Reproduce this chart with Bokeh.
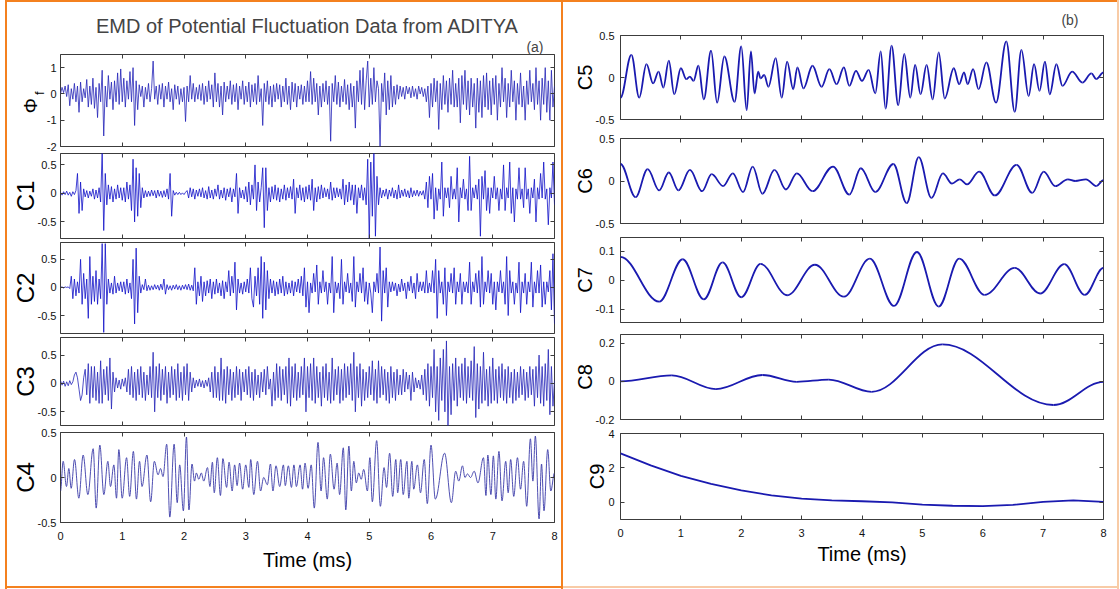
import numpy as np
from bokeh.plotting import figure
from bokeh.models import (Range1d, FixedTicker, LinearAxis, Title, Spacer,
                          CustomJSTickFormatter)
from bokeh.layouts import row, column
from bokeh.embed import file_html
from bokeh.resources import INLINE

# ---------------------------------------------------------------- data
TIME_TICKS = [0, 1, 2, 3, 4, 5, 6, 7, 8]
DT = 0.025  # sampling step (ms) of the dense traces

PHI_F = [
    0.0,0.25,0.05,0.3,-0.1,0.35,-0.45,0.2,-0.2,0.4, -0.3,0.3,-0.7,0.45,-0.3,0.2,-0.15,0.55,-0.5,0.3, -0.4,0.6,-0.55,0.25,-0.9,0.4,-0.3,0.9,-1.6,0.3, -0.5,0.7,-0.2,0.45,-0.6,0.5,-0.3,0.8,-0.4,0.95,
    -0.3,0.6,-0.5,0.5,-0.2,0.85,-0.3,1.0,-1.2,0.5, -0.6,0.35,-0.1,0.3,-0.5,0.25,-0.2,0.4,-0.3,0.2, 1.25,-0.2,0.3,-0.4,0.35,-0.2,0.4,-0.5,0.3,-0.2, 0.45,-0.3,0.2,-0.6,0.35,-0.2,0.3,-0.4,0.2,-0.3,
    0.25,-1.05,0.3,-0.3,0.7,-0.2,0.4,-0.3,0.25,-0.2, 0.35,-0.25,0.4,-0.4,0.3,-0.3,0.5,-0.2,0.35,-0.5, 0.8,-0.3,0.4,-0.5,0.3,-0.8,0.45,-0.3,0.3,-0.2, 0.5,-0.4,0.35,-0.3,0.4,-0.6,0.3,-0.2,0.5,-0.4,
    0.3,-0.3,0.45,-0.5,0.35,-0.3,0.4,-0.4,0.7,-0.3, 0.2,-1.2,0.4,-0.3,0.5,-0.4,0.3,-0.5,0.35,-0.3, 0.4,-0.2,0.35,-0.5,0.3,-0.3,0.6,-0.4,0.3,-0.6, 0.45,-0.3,0.4,-0.5,0.3,-0.2,0.35,-0.4,0.3,-0.3,
    0.5,-0.3,0.85,-0.4,0.6,-0.3,0.4,-0.8,0.3,-0.5, 0.4,-0.3,0.5,-0.4,0.3,-1.8,0.4,-0.3,0.7,-0.4, 0.45,-0.5,0.3,-0.3,0.55,-0.4,0.35,-0.6,0.4,-0.5, 0.3,-1.3,0.5,-0.3,0.9,-0.4,1.0,-0.6,0.5,1.25,
    -0.5,0.6,-0.4,1.0,-0.3,0.5,0.2,-2.0,0.4,-0.3, 0.8,-0.8,0.5,-0.6,0.7,-0.5,0.3,-0.4,0.35,-0.2, 0.3,-0.1,0.25,-0.2,0.3,0.0,0.25,-0.15,0.3,-0.1, 0.2,-0.2,0.3,0.0,0.25,-0.1,0.2,-0.3,0.3,-0.9,
    0.4,-0.5,0.6,-0.3,0.5,-1.35,0.4,-0.6,0.7,-0.4, 0.5,-0.7,0.6,-0.4,0.9,-0.5,0.4,-0.5,0.6,-1.1, 0.7,-0.4,0.9,-0.6,0.5,-0.8,0.6,-0.5,0.4,-1.3, 0.6,-0.7,0.5,-0.9,0.7,-0.5,0.8,-0.6,0.5,-0.8,
    0.6,-0.4,0.7,-1.0,0.4,-0.5,1.0,-0.3,0.6,-0.9, 0.4,-0.5,0.9,-0.3,0.5,-1.0,0.4,-0.4,0.8,-0.5, 0.3,-1.0,0.5,-0.4,0.9,-0.3,0.4,-0.6,1.0,-0.4, 0.5,-1.0,0.6,-0.4,1.0,-0.7,0.5,-1.0,0.9,-0.5,
    0.3]

C1 = [
    0.02,-0.03,0.03,-0.02,0.04,-0.03,0.02,-0.05,0.03,-0.02, 0.05,0.35,-0.35,0.2,-0.3,0.08,-0.06,0.05,-0.08,0.04, -0.05,0.08,-0.1,0.06,-0.08,0.1,-0.15,0.75,-0.65,0.35, -0.2,0.15,-0.1,0.12,-0.15,0.08,-0.1,0.15,-0.08,0.1,
    -0.12,0.1,-0.15,0.2,-0.1,0.15,-0.3,0.6,-0.5,0.45, -0.4,0.35,-0.25,0.1,-0.08,0.05,-0.06,0.04,-0.05,0.06, -0.04,0.05,-0.08,0.06,-0.05,0.04,-0.07,0.05,-0.06,0.08, -0.1,0.35,-0.4,0.05,-0.03,0.02,-0.02,0.02,-0.02,0.01,
    -0.02,0.02,0.05,-0.08,0.1,-0.06,0.08,-0.1,0.06,-0.05, 0.08,-0.06,0.1,-0.08,0.05,-0.1,0.12,-0.08,0.06,-0.1, 0.08,-0.05,0.15,-0.1,0.06,-0.08,0.1,-0.12,0.08,-0.06, 0.1,-0.15,0.08,-0.06,0.35,-0.35,0.1,-0.08,0.06,-0.1,
    0.12,-0.15,0.2,-0.2,0.15,-0.1,0.5,-0.3,0.2,-0.15, 0.1,0.45,-0.6,0.45,-0.3,0.1,-0.15,0.12,-0.1,0.15, -0.12,0.1,-0.15,0.08,-0.1,0.15,-0.12,0.1,-0.08,0.12, -0.1,0.25,-0.35,0.1,-0.08,0.15,-0.12,0.1,-0.15,0.12,
    -0.1,0.15,-0.12,0.25,-0.3,0.1,-0.15,0.12,-0.1,0.15, -0.08,0.1,-0.06,0.08,-0.1,0.2,-0.12,0.1,-0.08,0.1, -0.06,0.08,-0.1,0.25,-0.2,0.15,-0.15,0.2,-0.12,0.15, -0.2,0.15,-0.35,0.1,-0.08,0.15,-0.12,0.1,-0.2,0.6,
    -0.8,0.55,-0.4,0.75,-0.75,0.3,-0.2,0.1,-0.08,0.06, -0.05,0.08,-0.1,0.06,-0.05,0.1,-0.08,0.06,-0.1,0.15, -0.08,0.06,-0.05,0.08,-0.06,0.05,-0.08,0.1,-0.06,0.05, -0.04,0.06,-0.05,0.04,-0.03,0.05,-0.1,0.2,-0.25,0.3,
    -0.1,0.35,-0.45,0.1,-0.3,0.08,-0.1,0.55,-0.4,0.1, -0.08,0.1,-0.25,0.3,-0.1,0.08,-0.1,0.45,-0.5,0.1, -0.08,0.25,-0.1,0.08,-0.3,0.65,-0.3,0.1,-0.08,0.15, -0.1,0.25,-0.75,0.3,-0.1,0.4,-0.3,0.1,-0.35,0.1,
    -0.08,0.3,-0.1,0.1,-0.3,0.08,-0.1,0.5,-0.3,0.1, -0.08,0.55,-0.35,0.1,-0.5,0.08,-0.1,0.45,-0.1,0.08, -0.25,0.45,-0.1,0.08,-0.35,0.1,-0.08,0.25,-0.5,0.1, -0.1,0.35,-0.08,0.55,-0.1,0.08,-0.55,0.1,-0.08,0.55,
    -0.2]

C2 = [
    0.0,0.01,-0.01,0.01,0.0,0.01,-0.02,0.2,-0.2,0.15, -0.15,0.1,-0.1,0.5,-0.3,0.25,-0.2,0.15,-0.55,0.55, -0.3,0.2,-0.25,0.3,-0.3,0.15,-0.2,0.78,-0.8,0.78, -0.3,0.15,-0.1,0.08,-0.12,0.2,-0.1,0.08,-0.06,0.1,
    -0.08,0.1,-0.12,0.15,-0.1,0.08,-0.2,0.5,-0.65,0.7, -0.45,0.2,-0.1,0.05,-0.04,0.15,-0.06,0.04,-0.05,0.03, -0.04,0.05,-0.03,0.04,-0.05,0.06,-0.04,0.15,-0.12,0.05, -0.04,0.03,-0.05,0.04,-0.03,0.05,-0.04,0.03,-0.05,0.04,
    -0.03,0.05,-0.04,0.06,-0.05,0.04,-0.06,0.35,-0.3,0.1, -0.15,0.2,-0.25,0.1,-0.15,0.12,-0.1,0.15,-0.2,0.1, -0.12,0.15,-0.1,0.08,-0.15,0.12,-0.2,0.1,-0.08,0.3, -0.15,0.2,-0.1,0.45,-0.4,0.15,-0.1,0.08,-0.12,0.1,
    -0.08,0.15,-0.1,0.35,-0.2,-0.35,0.2,-0.15,0.35,-0.3, 0.55,-0.55,0.45,-0.4,0.3,-0.2,0.15,-0.1,0.12,-0.15, 0.1,-0.12,0.15,-0.1,0.2,-0.15,0.1,-0.12,0.08,-0.1, 0.12,-0.15,0.1,-0.08,0.15,-0.1,0.2,-0.15,0.35,-0.35,
    0.1,-0.45,0.08,-0.1,0.25,-0.08,0.4,-0.3,0.1,-0.1, 0.3,-0.08,0.1,-0.3,0.08,-0.1,0.55,-0.45,0.1,-0.1, 0.08,-0.2,0.5,-0.3,0.1,-0.08,0.25,-0.1,0.08,-0.25, 0.55,-0.35,0.1,-0.08,0.25,-0.1,0.35,-0.25,0.1,-0.3,
    0.08,-0.1,-0.45,0.1,-0.08,0.25,-0.1,0.72,-0.6,0.3, -0.1,0.35,-0.35,0.1,-0.08,0.1,-0.06,0.08,-0.15,0.06, -0.08,0.15,-0.06,0.08,-0.2,0.1,-0.06,0.2,-0.1,0.08, -0.2,0.25,-0.08,0.1,-0.06,0.1,-0.1,0.3,-0.1,0.08,
    -0.08,0.3,-0.1,0.5,-0.55,0.3,-0.1,0.1,-0.3,0.35, -0.5,0.1,-0.08,0.25,-0.1,0.35,-0.3,0.1,-0.08,0.25, -0.3,0.1,-0.08,0.1,-0.1,0.45,-0.3,0.1,-0.08,0.25, -0.1,0.3,-0.35,0.55,-0.3,0.1,-0.08,0.3,-0.1,0.25,
    -0.3,0.1,-0.4,0.1,-0.08,0.3,-0.1,0.1,-0.3,0.55, -0.5,0.3,-0.1,0.1,-0.3,0.08,-0.1,0.45,-0.45,0.1, -0.1,0.25,-0.3,0.1,-0.08,0.45,-0.35,0.1,-0.1,0.3, -0.1,0.4,-0.35,0.1,-0.3,0.1,-0.08,0.3,-0.4,0.6,
    -0.65]

C3 = [
    0.05,-0.03,0.04,-0.05,0.03,-0.04,0.05,-0.02,0.03,0.15, 0.2,0.1,-0.1,-0.3,-0.2,0.1,0.25,-0.2,0.35,-0.35, 0.3,-0.25,0.3,-0.3,0.2,-0.35,0.4,-0.35,0.25,-0.2, 0.3,-0.3,0.45,-0.45,0.2,-0.15,0.1,-0.08,0.06,-0.1,
    0.08,-0.05,0.1,-0.15,0.25,-0.2,0.3,-0.25,0.2,-0.3, 0.25,-0.2,0.3,-0.25,0.2,-0.3,0.15,-0.2,0.3,-0.25, 0.55,-0.5,0.3,-0.25,0.35,-0.3,0.25,-0.2,0.3,-0.35, 0.2,-0.25,0.3,-0.2,0.25,-0.3,0.35,-0.25,0.2,-0.3,
    0.3,-0.2,0.35,-0.3,0.2,-0.15,0.1,-0.08,0.06,-0.05, 0.08,-0.06,0.05,-0.08,0.06,-0.05,0.1,-0.15,0.2,-0.25, 0.3,-0.25,0.2,-0.3,0.45,-0.3,0.25,-0.35,0.3,-0.2, 0.25,-0.3,0.2,-0.25,0.3,-0.2,0.25,-0.3,0.2,-0.15,
    0.25,-0.2,0.3,-0.25,0.2,-0.3,0.25,-0.2,0.15,-0.25, 0.2,-0.15,0.25,-0.2,0.3,-0.1,0.08,-0.4,0.2,-0.3, 0.35,-0.25,0.3,-0.3,0.25,-0.2,0.3,-0.35,0.45,-0.4, 0.3,-0.25,0.35,-0.3,0.2,-0.25,0.3,-0.2,0.45,-0.5,
    0.3,-0.25,0.35,-0.3,0.45,-0.35,0.3,-0.25,0.2,-0.4, 0.3,-0.25,0.35,-0.3,0.2,-0.35,0.45,-0.3,0.25,-0.2, 0.3,-0.35,0.25,-0.3,0.35,-0.25,0.3,-0.2,0.35,-0.3, 0.55,-0.5,0.3,-0.25,0.35,-0.4,0.25,-0.3,0.2,-0.25,
    0.3,-0.2,0.4,-0.3,0.25,-0.35,0.4,-0.25,0.3,-0.2, 0.25,-0.3,0.2,-0.35,0.3,-0.25,0.2,-0.3,0.25,-0.2, 0.15,-0.2,0.25,-0.15,0.2,-0.1,0.15,-0.3,0.2,-0.15, 0.1,-0.08,0.06,-0.1,0.15,-0.2,0.25,-0.3,0.35,-0.4,
    0.3,-0.25,0.6,-0.5,0.3,-0.65,0.45,-0.3,0.6,-0.5, 0.75,-0.75,0.3,-0.55,0.35,-0.3,0.45,-0.4,0.3,-0.25, 0.35,-0.3,0.45,-0.35,0.3,-0.25,0.4,-0.3,0.65,-0.6, 0.35,-0.45,0.3,-0.35,0.55,-0.3,0.25,-0.4,0.3,-0.35,
    0.45,-0.3,0.25,-0.35,0.3,-0.25,0.35,-0.3,0.25,-0.35, 0.3,-0.25,0.2,-0.35,0.25,-0.3,0.2,-0.25,0.3,-0.2, 0.25,-0.3,0.2,-0.25,0.3,-0.2,0.25,-0.4,0.3,-0.25, 0.5,-0.35,0.3,-0.4,0.35,-0.3,0.6,-0.55,0.3,-0.4,
    0.05]

# extrema (time in ms, value) of the smoother modes
C4_T = [0, 0.043, 0.097, 0.135, 0.173, 0.227, 0.297, 0.367, 0.443, 0.529, 0.578, 0.637, 0.702, 0.767, 0.81,
        0.864, 0.907, 0.945, 0.999, 1.07, 1.12, 1.18, 1.23, 1.28, 1.32, 1.40, 1.46, 1.52, 1.58, 1.62, 1.66,
        1.72, 1.77, 1.84, 1.89, 1.93, 1.99, 2.04, 2.08, 2.13, 2.17, 2.2, 2.24, 2.28, 2.32, 2.38, 2.42, 2.46,
        2.49, 2.54, 2.59, 2.63, 2.69, 2.73, 2.78, 2.82, 2.86, 2.90, 2.95, 3.0, 3.05, 3.08, 3.13, 3.19, 3.24,
        3.29, 3.35, 3.40, 3.44, 3.49, 3.55, 3.61, 3.64, 3.69, 3.74, 3.78, 3.82, 3.88, 3.92, 3.96, 4.01, 4.06,
        4.11, 4.17, 4.22, 4.26, 4.32, 4.37, 4.43, 4.48, 4.52, 4.58, 4.62, 4.67, 4.71, 4.75, 4.79, 4.83, 4.87,
        4.91, 4.97, 5.01, 5.05, 5.12, 5.18, 5.24, 5.28, 5.33, 5.38, 5.43, 5.46, 5.51, 5.55, 5.61, 5.64, 5.69,
        5.72, 5.78, 5.83, 5.89, 5.94, 6.0, 6.07, 6.22, 6.33, 6.40, 6.45, 6.51, 6.55, 6.59, 6.64, 6.70, 6.76,
        6.85, 6.89, 6.92, 6.97, 7.01, 7.05, 7.10, 7.15, 7.21, 7.25, 7.29, 7.34, 7.40, 7.45, 7.50, 7.55, 7.61,
        7.65, 7.69, 7.75, 7.79, 7.83, 7.89, 7.94, 8.0]
C4_V = [-0.15, 0.18, -0.1, 0.1, -0.12, 0.2, -0.23, 0.25, -0.19, 0.32, -0.34, 0.36, -0.19, 0.18, -0.1,
        0.14, -0.23, 0.31, -0.23, 0.22, -0.21, 0.29, -0.24, 0.18, -0.1, 0.25, -0.27, 0.18, 0.03, 0.1, 0.01,
        0.37, -0.44, 0.37, -0.28, 0.14, -0.37, 0.45, -0.36, 0.15, -0.04, 0.05, -0.02, 0.05, -0.04, 0.11, -0.1, 0.17,
        -0.17, 0.22, -0.2, 0.21, -0.11, 0.17, -0.15, 0.14, -0.09, 0.16, -0.13, 0.14, -0.11, 0.2, -0.19, 0.18, -0.15,
        0.0, -0.08, 0.15, -0.15, 0.13, -0.1, 0.14, -0.09, 0.13, -0.11, 0.14, -0.1, 0.14, -0.13, 0.16, -0.12, 0.14,
        -0.34, 0.39, -0.15, 0.22, -0.24, 0.26, -0.13, 0.16, -0.19, 0.33, -0.36, 0.35, -0.15, 0.18, -0.06, 0.05, -0.02,
        0.09, -0.15, 0.22, -0.27, 0.41, -0.32, 0.11, -0.11, 0.27, -0.21, 0.2, -0.17, 0.2, -0.19, 0.18, -0.23, 0.18,
        -0.13, 0.14, -0.17, 0.2, -0.29, 0.36, -0.24, 0.27, -0.28, 0.07, -0.04, 0.13, 0.0, 0.04, 0.0, 0.07, -0.06,
        0.22, -0.2, 0.25, -0.19, 0.24, -0.24, 0.29, -0.26, 0.18, -0.17, 0.2, -0.21, 0.22, -0.13, 0.18, -0.32, 0.43,
        -0.04, 0.46, -0.46, 0.15, -0.37, 0.31, -0.15, 0.05]

C5_T = [0, 0.18, 0.31, 0.43, 0.54, 0.63, 0.71, 0.80, 0.89, 1.0, 1.09, 1.15, 1.21, 1.29, 1.38, 1.50, 1.60,
        1.72, 1.89, 2.0, 2.09, 2.16, 2.22, 2.28, 2.32, 2.38, 2.45, 2.57, 2.67, 2.76, 2.86, 2.93, 3.03, 3.18,
        3.33, 3.46, 3.58, 3.70, 3.79, 3.90, 4.0, 4.11, 4.22, 4.31, 4.39, 4.49, 4.6, 4.7, 4.8, 4.88, 4.97,
        5.07, 5.17, 5.27, 5.37, 5.52, 5.61, 5.69, 5.75, 5.84, 5.93, 6.06, 6.22, 6.39, 6.53, 6.64, 6.76, 6.85,
        6.94, 7.03, 7.11, 7.22, 7.32, 7.48, 7.65, 7.8, 7.88, 8.0]
C5_V = [-0.24, 0.27, -0.24, 0.16, -0.07, 0.07, -0.12, 0.2, -0.2, 0.11, -0.02, 0.01, -0.04, 0.14, -0.26, 0.32,
        -0.30, 0.25, -0.29, 0.37, -0.39, 0.31, -0.19, 0.07, -0.01, 0.03, -0.11, 0.23, -0.24, 0.19, -0.14, 0.12,
        -0.13, 0.14, -0.11, 0.1, -0.08, 0.12, -0.1, 0.08, -0.04, 0.09, -0.19, 0.31, -0.37, 0.38, -0.33, 0.28,
        -0.24, 0.15, -0.2, 0.15, -0.26, 0.30, -0.25, 0.11, -0.08, 0.06, -0.08, 0.10, -0.14, 0.18, -0.30, 0.43,
        -0.41, 0.33, -0.22, 0.16, -0.16, 0.19, -0.2, 0.16, -0.1, 0.07, -0.06, 0.05, -0.02, 0.06]

C6_T = [0, 0.25, 0.45, 0.64, 0.80, 0.96, 1.15, 1.35, 1.51, 1.70, 1.86, 2.03, 2.19, 2.35, 2.55, 2.74, 2.92,
        3.18, 3.52, 3.79, 3.98, 4.22, 4.52, 4.74, 4.94, 5.15, 5.34, 5.49, 5.62, 5.74, 5.94, 6.20, 6.56, 6.82,
        7.01, 7.2, 7.41, 7.53, 7.71, 7.88, 8.0]
C6_V = [0.2, -0.19, 0.14, -0.11, 0.10, -0.11, 0.13, -0.12, 0.08, -0.06, 0.09, -0.13, 0.17, -0.15, 0.13, -0.10,
        0.09, -0.12, 0.17, -0.16, 0.15, -0.13, 0.2, -0.26, 0.28, -0.2, 0.09, -0.03, 0.02, -0.04, 0.11, -0.17,
        0.19, -0.14, 0.11, -0.06, 0.02, 0.0, 0.02, -0.06, 0.01]

C7_T = [0, 0.64, 1.03, 1.38, 1.69, 2.0, 2.32, 2.76, 3.22, 3.70, 4.13, 4.53, 4.91, 5.27, 5.61, 6.03, 6.53,
        6.95, 7.35, 7.69, 8.0]
C7_V = [0.081, -0.073, 0.073, -0.065, 0.062, -0.058, 0.057, -0.051, 0.054, -0.056, 0.075, -0.088, 0.098,
        -0.090, 0.075, -0.05, 0.043, -0.045, 0.056, -0.05, 0.043]

C8_T = [0, 0.85, 1.58, 2.35, 2.92, 3.45, 4.16, 5.33, 7.17, 8.0]
C8_V = [0, 0.031, -0.041, 0.033, -0.003, 0.009, -0.055, 0.193, -0.124, -0.003]

C9_DT = 0.5
C9_V = [2.84, 2.15, 1.54, 1.07, 0.69, 0.40, 0.21, 0.11, 0.06, 0.0, -0.13, -0.20, -0.22, -0.15, 0.03, 0.11, 0.03]

# ---------------------------------------------------------------- style
SANS = "Liberation Sans"
AX = "#3c3c3c"
ORANGE = "#F4811F"
PEACH = "#F8CBA6"
DENSE = "#2323b8"
SMOOTH = "#1a1ab0"
NBSP = "\u00a0"


def tick_only_axis(ticks):
    """Axis that draws only inward tick marks (MATLAB box ticks), no labels."""
    ax = LinearAxis(ticker=FixedTicker(ticks=[], minor_ticks=ticks))
    ax.axis_line_color = None
    ax.major_tick_line_color = None
    ax.minor_tick_line_color = AX
    ax.minor_tick_in = 4
    ax.minor_tick_out = 0
    ax.major_label_standoff = 0
    return ax


def title_axis(text, size, standoff):
    """Axis carrying only an axis label (used for the two parts of the phi_f label)."""
    ax = LinearAxis(ticker=FixedTicker(ticks=[]), axis_label=text)
    ax.axis_line_color = None
    ax.major_tick_line_color = None
    ax.minor_tick_line_color = None
    ax.major_label_standoff = 0
    ax.axis_label_text_font = SANS
    ax.axis_label_text_font_size = size
    ax.axis_label_text_font_style = "normal"
    ax.axis_label_text_color = "#000000"
    ax.axis_label_standoff = standoff
    return ax


def labelled_axis(ticks, standoff):
    ax = LinearAxis(ticker=FixedTicker(ticks=ticks),
                    formatter=CustomJSTickFormatter(code="return String(tick)"))
    ax.axis_line_color = None
    ax.major_tick_line_color = AX
    ax.major_tick_in = 4
    ax.major_tick_out = 0
    ax.minor_tick_line_color = None
    ax.major_label_text_font = SANS
    ax.major_label_text_font_size = "11px"
    ax.major_label_text_color = "#111111"
    ax.major_label_standoff = standoff
    return ax


def panel(w, h, mt, mb, ml, mr, ylo, yhi, yticks, ylabel, ylab_size,
          lab_standoff, ylab_standoff, xlabel=None, xlab_standoff=(8, 6)):
    p = figure(width=w, height=h, x_range=Range1d(0, 8), y_range=Range1d(ylo, yhi),
               output_backend="svg", toolbar_location=None,
               x_axis_type=None, y_axis_type=None,
               min_border_top=mt, min_border_bottom=mb,
               min_border_left=ml, min_border_right=mr)
    p.outline_line_color = AX
    p.outline_line_width = 1
    p.background_fill_color = "white"
    p.border_fill_color = "white"

    p.add_layout(tick_only_axis(TIME_TICKS), "above")
    if xlabel is None:
        p.add_layout(tick_only_axis(TIME_TICKS), "below")
    else:
        bottom = labelled_axis(TIME_TICKS, xlab_standoff[0])
        bottom.axis_label = xlabel
        bottom.axis_label_text_font = SANS
        bottom.axis_label_text_font_size = "20px"
        bottom.axis_label_text_font_style = "normal"
        bottom.axis_label_text_color = "#000000"
        bottom.axis_label_standoff = xlab_standoff[1]
        p.add_layout(bottom, "below")

    left = labelled_axis(yticks, lab_standoff)
    if ylabel is not None:
        left.axis_label = ylabel
        left.axis_label_text_font = SANS
        left.axis_label_text_font_size = ylab_size
        left.axis_label_text_font_style = "normal"
        left.axis_label_text_color = "#000000"
        left.axis_label_standoff = ylab_standoff
    p.add_layout(left, "left")
    p.add_layout(tick_only_axis(yticks), "right")
    return p


def smooth(p, t, v, color=SMOOTH, width=1.8):
    t = np.asarray(t, dtype=float)
    v = np.asarray(v, dtype=float)
    d = 0.36 * np.diff(t)
    p.bezier(x0=t[:-1], y0=v[:-1], x1=t[1:], y1=v[1:],
             cx0=t[:-1] + d, cy0=v[:-1], cx1=t[1:] - d, cy1=v[1:],
             line_color=color, line_width=width)


def dense(p, vals, color=DENSE, width=0.8):
    t = np.arange(len(vals)) * DT
    p.line(t, vals, line_color=color, line_width=width)


LW, RW = 554, 554
YT = [-0.5, 0, 0.5]

# ---------------- left column (a)
p_phi = panel(LW, 150, 52, 6, 53, 7, -2, 1.5, [-2, -1, 0, 1], None, None, 4, 0)
dense(p_phi, PHI_F)
# phi with subscript f: the small "f" sits next to the tick labels, the phi beyond it
p_phi.add_layout(title_axis(NBSP * 4 + "f", "13px", -3), "left")
p_phi.add_layout(title_axis("Φ" + NBSP * 2, "19px", -12), "left")
p_phi.add_layout(Title(text="(a)", align="right", offset=11, standoff=0,
                       text_font=SANS, text_font_size="14px",
                       text_font_style="normal"), "above")
p_phi.add_layout(Title(text="EMD of Potential Fluctuation Data from ADITYA", align="center",
                       standoff=0, text_font=SANS, text_font_size="20px",
                       text_font_style="normal"), "above")

p1 = panel(LW, 88, 1, 2, 53, 7, -0.79, 0.70, YT, "C1", "24px", 4, -4)
dense(p1, C1, "#1010c8", 0.8)
p2 = panel(LW, 95, 2, 2, 53, 7, -0.82, 0.80, YT, "C2", "24px", 4, -4)
dense(p2, C2, "#1010c8", 0.8)
p3 = panel(LW, 91, 2, 1, 53, 7, -0.74, 0.81, YT, "C3", "24px", 4, -4)
dense(p3, C3)
p4 = panel(LW, 160, 6, 64, 53, 7, -0.5, 0.5, YT, "C4", "24px", 4, -4,
           xlabel="Time (ms)", xlab_standoff=(9, 6))
smooth(p4, C4_T, C4_V, color="#3a3aa8", width=0.9)

# ---------------- right column (b)
p5 = panel(RW, 126, 32, 9, 57, 14, -0.5, 0.5, YT, "C5", "20px", 6, -3)
smooth(p5, C5_T, C5_V)
p5.add_layout(Title(text="(b)", align="right", offset=25, standoff=15,
                    text_font=SANS, text_font_size="14px",
                    text_font_style="normal"), "above")
p6 = panel(RW, 102, 10, 7, 57, 14, -0.5, 0.5, YT, "C6", "20px", 6, -3)
smooth(p6, C6_T, C6_V)
p7 = panel(RW, 98, 7, 6, 57, 14, -0.145, 0.148, [-0.1, 0, 0.1], "C7", "20px", 6, -3)
smooth(p7, C7_T, C7_V)
p8 = panel(RW, 98, 6, 7, 57, 14, -0.2, 0.245, [-0.2, 0, 0.2], "C8", "20px", 6, -3)
smooth(p8, C8_T, C8_V)
p9 = panel(RW, 160, 7, 67, 57, 14, -1, 4, [0, 2, 4], "C9", "20px", 6, -3,
           xlabel="Time (ms)", xlab_standoff=(9, 3))
p9.line(np.arange(len(C9_V)) * C9_DT, C9_V, line_color=SMOOTH, line_width=1.8)


def bar(w, h, c):
    return Spacer(width=w, height=h, styles={"background-color": c})


left_col = column(bar(LW, 2, ORANGE), p_phi, p1, p2, p3, p4,
                  bar(LW, 2, ORANGE), bar(LW, 1, "white"))
right_col = column(bar(RW, 2, ORANGE), p5, p6, p7, p8, p9,
                   bar(RW, 2, PEACH), bar(RW, 1, "white"))
layout = row(bar(5, 589, "white"), bar(2, 589, ORANGE), left_col, bar(2, 589, ORANGE),
             right_col, bar(2, 589, PEACH), bar(1, 589, "white"))

open("out.html", "w").write(file_html(layout, INLINE, title="EMD of Potential Fluctuation Data from ADITYA"))
